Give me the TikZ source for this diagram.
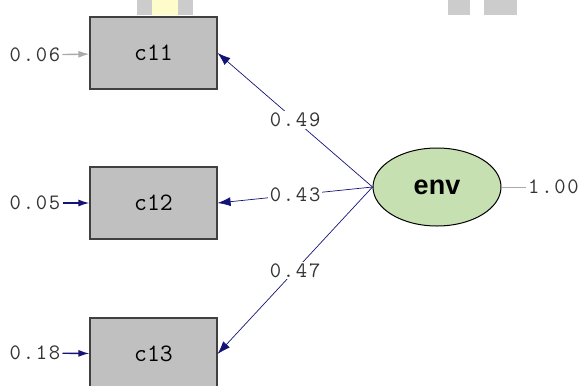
\documentclass[tikz,border=0pt]{standalone}
\usepackage{fontspec}
\usepackage{tikz}
\usetikzlibrary{arrows.meta, shapes, positioning}
\newfontfamily\sansfont{Liberation Sans}
\newfontfamily\numfont[LetterSpace=8]{Latin Modern Mono}
\definecolor{boxgray}{RGB}{192,192,192}
\definecolor{latgreen}{RGB}{198,224,178}
\definecolor{pathnavy}{RGB}{20,20,120}
\definecolor{linegray}{RGB}{170,170,170}
\tikzstyle{manifest}=[shape=rectangle,draw=black!75,line width=1.2bp,fill=boxgray,minimum width=127bp,minimum height=72bp,font=\ttfamily\fontsize{25bp}{27bp}\selectfont]
\tikzstyle{latent}=[shape=ellipse,draw=black,line width=1bp,fill=latgreen,minimum width=128bp,minimum height=78bp,inner sep=0pt,font=\sansfont\bfseries\fontsize{27bp}{30bp}\selectfont]
\tikzstyle{coef}=[fill=white,inner sep=1.5bp,text=black!80,font=\numfont\fontsize{22bp}{24bp}\selectfont]
\tikzstyle{errlabel}=[inner sep=2bp,text=black!80,font=\numfont\fontsize{22bp}{24bp}\selectfont]
\tikzstyle{mainedge}=[-{Latex[length=13bp,width=9bp]},draw=pathnavy,line width=0.7bp]
\tikzstyle{erredge}=[-{Latex[length=11bp,width=7bp]},line width=1.4bp]

\begin{document}
\begin{tikzpicture}[x=1bp,y=1bp]
\useasboundingbox (0,0) rectangle (580,385);
% marks at the top
\fill[black!20] (137,370) rectangle (193,385);
\fill[yellow!20] (152,370) rectangle (178,385);
\fill[black!20] (448,370) rectangle (470,385);
\fill[black!20] (484,370) rectangle (517,385);
% observed variables
\node[manifest] (c11) at (153.5,332) {c11};
\node[manifest] (c12) at (153.5,182) {c12};
\node[manifest] (c13) at (153.5,31) {c13};
% latent variable
\node[latent] (env) at (437,198) {env};
% error variances
\node[errlabel] (e11) at (35,330) {0.06};
\node[errlabel] (e12) at (35,182) {0.05};
\node[errlabel] (e13) at (35,32) {0.18};
\draw[erredge,linegray] (e11) -- (c11);
\draw[erredge,pathnavy] (e12) -- (c12);
\draw[erredge,pathnavy] (e13) -- (c13);
% loadings
\draw[mainedge] (env.west) -- node[coef] {0.49} (c11.east);
\draw[mainedge] (env.west) -- node[coef] {0.43} (c12.east);
\draw[mainedge] (env.west) -- node[coef] {0.47} (c13.east);
% latent variance
\node[errlabel,anchor=west] (venv) at (526,198) {1.00};
\draw[linegray,line width=1bp] (env.east) -- (venv);
\end{tikzpicture}
\end{document}
